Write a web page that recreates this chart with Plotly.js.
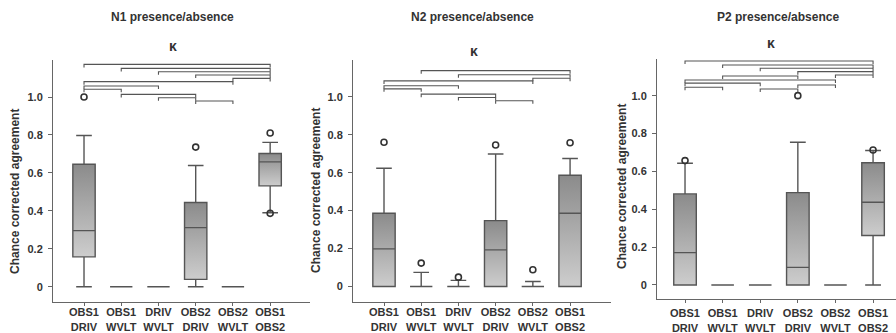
<!DOCTYPE html>
<html>
<head>
<meta charset="utf-8">
<script src="https://cdn.plot.ly/plotly-3.0.1.min.js"></script>
<style>html,body{margin:0;padding:0;background:#fff;}#chart{width:896px;height:333px;}</style>
</head>
<body>
<div id="chart"></div>
<script>
// ---------- DATA ----------
const categories = ['OBS1<br>DRIV','OBS1<br>WVLT','DRIV<br>WVLT','OBS2<br>DRIV','OBS2<br>WVLT','OBS1<br>OBS2'];
const yTickVals = [0, 0.2, 0.4, 0.6, 0.8, 1.0];
const yTickText = ['0', '0.2', '0.4', '0.6', '0.8', '1.0'];
const panelTitles = ['N1 presence/absence', 'N2 presence/absence', 'P2 presence/absence'];
const subTitle = 'κ';
const yTitle = 'Chance corrected agreement';

// N1
const n1Lower  = [0, 0, 0, 0, 0, 0.39];
const n1Q1     = [0.158, 0, 0, 0.039, 0, 0.532];
const n1Median = [0.296, 0, 0, 0.312, 0, 0.658];
const n1Q3     = [0.646, 0, 0, 0.444, 0, 0.702];
const n1Upper  = [0.797, 0, 0, 0.639, 0, 0.761];
const n1OutX   = [0, 3, 5, 5];
const n1OutY   = [1.0, 0.736, 0.81, 0.387];
const n1Pairs  = [[0,5],[1,5],[2,5],[3,5],[4,5],[0,4],[0,2],[0,1],[1,3],[2,3],[3,4]];
const n1Levels = [1.172,1.151,1.133,1.116,1.098,1.081,1.058,1.041,1.014,0.996,0.979];

// N2
const n2Lower  = [0, 0, 0, 0, 0, 0];
const n2Q1     = [0, 0, 0, 0, 0, 0];
const n2Median = [0.198, 0, 0, 0.193, 0, 0.386];
const n2Q3     = [0.386, 0, 0, 0.347, 0, 0.586];
const n2Upper  = [0.623, 0.074, 0.032, 0.698, 0.026, 0.675];
const n2OutX   = [0, 1, 2, 3, 4, 5];
const n2OutY   = [0.76, 0.123, 0.049, 0.746, 0.088, 0.758];
const n2Pairs  = [[1,5],[2,5],[4,5],[0,4],[0,2],[0,1],[1,3],[2,3],[3,4]];
const n2Levels = [1.138,1.116,1.098,1.084,1.058,1.042,1.014,0.996,0.979];

// P2
const p2Lower  = [0, 0, 0, 0, 0, 0];
const p2Q1     = [0, 0, 0, 0, 0, 0.261];
const p2Median = [0.171, 0, 0, 0.093, 0, 0.437];
const p2Q3     = [0.481, 0, 0, 0.488, 0, 0.646];
const p2Upper  = [0.643, 0, 0, 0.754, 0, 0.710];
const p2OutX   = [0, 3, 5];
const p2OutY   = [0.657, 1.0, 0.713];
const p2Pairs  = [[0,5],[1,5],[2,5],[3,5],[4,5],[1,3],[0,4],[0,2],[3,4],[0,1],[2,3]];
const p2Levels = [1.183,1.162,1.145,1.127,1.109,1.104,1.083,1.066,1.056,1.044,1.035];

// ---------- STYLE ----------
const FONT = 'Liberation Sans, Arial, sans-serif';
const TXT = '#333333';
const LINE = '#555555';
const BOXW = 0.6;
const DROP = 0.016;

const panels = [
  {lo:n1Lower,q1:n1Q1,med:n1Median,q3:n1Q3,up:n1Upper,ox:n1OutX,oy:n1OutY,pairs:n1Pairs,levels:n1Levels,
   xd:[53/896, 310/896], yd:[31/333, 273/333], xr:[-0.833, 6.07], yr:[-0.080, 1.195], xstand:-3},
  {lo:n2Lower,q1:n2Q1,med:n2Median,q3:n2Q3,up:n2Upper,ox:n2OutX,oy:n2OutY,pairs:n2Pairs,levels:n2Levels,
   xd:[353/896, 611/896], yd:[31/333, 273/333], xr:[-0.833, 6.10], yr:[-0.082, 1.194], xstand:-3},
  {lo:p2Lower,q1:p2Q1,med:p2Median,q3:p2Q3,up:p2Upper,ox:p2OutX,oy:p2OutY,pairs:p2Pairs,levels:p2Levels,
   xd:[657/896, 1.0], yd:[34/333, 273.7/333], xr:[-0.745, 5.61], yr:[-0.074, 1.192], xstand:1}
];

const data = [];
const layout = {
  width: 896, height: 333,
  margin: {l:0, r:0, t:0, b:0},
  paper_bgcolor: '#ffffff', plot_bgcolor: 'rgba(0,0,0,0)',
  showlegend: false,
  font: {family: FONT, color: TXT},
  annotations: []
};

const xs = categories.map((c, i) => i);

panels.forEach((p, k) => {
  const bx = 'x' + (k === 0 ? '' : (k + 1));
  const by = 'y' + (k === 0 ? '' : (k + 1));
  const ox = 'x' + (k + 4);
  const oy = 'y' + (k + 4);

  // gradient box bodies (base axes)
  xs.forEach(i => {
    if (p.q3[i] > p.q1[i]) {
      data.push({
        type: 'scatter', mode: 'lines', xaxis: bx, yaxis: by,
        x: [i - BOXW/2, i + BOXW/2, i + BOXW/2, i - BOXW/2, i - BOXW/2],
        y: [p.q1[i], p.q1[i], p.q3[i], p.q3[i], p.q1[i]],
        fill: 'toself', line: {width: 0},
        fillgradient: {type: 'vertical', colorscale: [[0, '#cdcdcd'], [1, '#8b8b8b']]},
        hoverinfo: 'skip'
      });
    }
  });
  data.push({type:'scatter', mode:'none', x:[0], y:[0], xaxis:bx, yaxis:by, hoverinfo:'skip'});

  // box plot (overlay axes)
  data.push({
    type: 'box', xaxis: ox, yaxis: oy,
    x: xs, q1: p.q1, median: p.med, q3: p.q3, lowerfence: p.lo, upperfence: p.up,
    boxpoints: false, width: BOXW, whiskerwidth: 0.7,
    fillcolor: 'rgba(0,0,0,0)', line: {color: LINE, width: 1.4},
    hoverinfo: 'skip'
  });
  // outliers
  data.push({
    type: 'scatter', mode: 'markers', xaxis: ox, yaxis: oy,
    x: p.ox, y: p.oy,
    marker: {symbol: 'circle-open', size: 6, color: '#333', line: {width: 1.6, color: '#333'}},
    hoverinfo: 'skip'
  });
  // comparison brackets
  const bxv = [], byv = [];
  p.pairs.forEach((pr, j) => {
    const lv = p.levels[j];
    bxv.push(pr[0], pr[0], pr[1], pr[1], null);
    byv.push(lv - DROP, lv, lv, lv - DROP, null);
  });
  data.push({
    type: 'scatter', mode: 'lines', xaxis: ox, yaxis: oy,
    x: bxv, y: byv, line: {color: LINE, width: 1.1}, connectgaps: false, hoverinfo: 'skip'
  });

  const bxName = 'xaxis' + (k === 0 ? '' : (k + 1));
  const byName = 'yaxis' + (k === 0 ? '' : (k + 1));
  layout[bxName] = {
    domain: p.xd, range: p.xr, anchor: by,
    showgrid: false, zeroline: false, showline: true, linecolor: '#666', linewidth: 1,
    ticks: 'outside', ticklen: 3, tickcolor: '#666', tickwidth: 1,
    tickvals: xs, ticktext: categories, ticklabelstandoff: p.xstand,
    tickfont: {family: FONT, size: 11, color: TXT, weight: 'bold'}
  };
  layout[byName] = {
    domain: p.yd, range: p.yr, anchor: bx,
    showgrid: false, zeroline: false, showline: true, linecolor: '#666', linewidth: 1,
    ticks: 'outside', ticklen: 4, tickcolor: '#666', tickwidth: 1,
    tickvals: yTickVals, ticktext: yTickText, ticklabelstandoff: 3,
    tickfont: {family: FONT, size: 11, color: TXT, weight: 'bold'}
  };
  layout['xaxis' + (k + 4)] = {
    overlaying: bx, anchor: oy, range: p.xr, visible: false, showgrid: false, zeroline: false
  };
  layout['yaxis' + (k + 4)] = {
    overlaying: by, anchor: ox, range: p.yr, visible: false, showgrid: false, zeroline: false
  };
});

// titles and labels
const titlePos = [[172, 17], [472, 17], [778, 17]];
const kappaPos = [[173, 46], [474, 51], [771, 43]];
const yTitlePos = [[15, 192], [316, 191], [622, 187]];
panelTitles.forEach((t, k) => {
  layout.annotations.push({
    text: '<b>' + t + '</b>', xref: 'paper', yref: 'paper',
    x: titlePos[k][0] / 896, y: 1 - titlePos[k][1] / 333, xanchor: 'center', yanchor: 'middle',
    showarrow: false, font: {family: FONT, size: 12, color: TXT}
  });
  layout.annotations.push({
    text: '<b>' + subTitle + '</b>', xref: 'paper', yref: 'paper',
    x: kappaPos[k][0] / 896, y: 1 - kappaPos[k][1] / 333, xanchor: 'center', yanchor: 'middle',
    showarrow: false, font: {family: FONT, size: 14, color: TXT}
  });
  layout.annotations.push({
    text: '<b>' + yTitle + '</b>', xref: 'paper', yref: 'paper', textangle: -90,
    x: yTitlePos[k][0] / 896, y: 1 - yTitlePos[k][1] / 333, xanchor: 'center', yanchor: 'middle',
    showarrow: false, font: {family: FONT, size: 12, color: TXT}
  });
});

Plotly.newPlot('chart', data, layout, {staticPlot: true, displayModeBar: false});
</script>
</body>
</html>
